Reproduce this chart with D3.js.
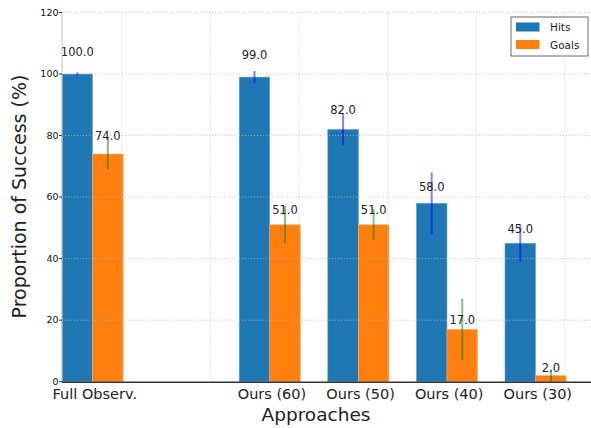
<!DOCTYPE html>
<html>
<head>
<meta charset="utf-8">
<script src="https://cdn.jsdelivr.net/npm/d3@7"></script>
<style>
  html, body { margin: 0; padding: 0; background: #fff; }
  svg { display: block; font-family: "DejaVu Sans", sans-serif; }
</style>
</head>
<body>
<svg id="chart" width="591" height="428"></svg>
<script>
// Success rates per approach (percent) with their spread
const categories = ["Full Observ.", "Ours (60)", "Ours (50)", "Ours (40)", "Ours (30)"];
const hits = [100.0, 99.0, 82.0, 58.0, 45.0];
const goals = [74.0, 51.0, 51.0, 17.0, 2.0];
const hitsErr = [0.5, 2, 5, 10, 6];
const goalsErr = [5, 6, 5, 10, 2];
const yTicks = [0, 20, 40, 60, 80, 100, 120];
const seriesNames = ["Hits", "Goals"];

const colors = { Hits: "#1f77b4", Goals: "#ff7f0e" };
const errColors = { Hits: "rgba(0,0,255,0.5)", Goals: "rgba(0,128,0,0.5)" };

// layout: one empty slot separates the baseline from our variants
const slot = [0, 2, 3, 4, 5];
const barW = 0.345;

const svg = d3.select("#chart");
const plotL = 62, plotR = 591, plotT = 12.5, plotB = 381.7;

const x = d3.scaleLinear().domain([0, 6]).range([plotL, plotL + 6 * 88.6]);
const y = d3.scaleLinear().domain([0, 120]).range([plotB, plotT]);

const rows = categories.map((c, i) => ({
  cat: c, s: slot[i],
  vals: [
    { name: "Hits", v: hits[i], e: hitsErr[i], off: 0 },
    { name: "Goals", v: goals[i], e: goalsErr[i], off: barW }
  ]
}));

// bars
const g = svg.append("g");
rows.forEach(r => {
  r.vals.forEach(d => {
    g.append("rect")
      .attr("x", x(r.s + d.off))
      .attr("y", y(d.v))
      .attr("width", x(r.s + d.off + barW) - x(r.s + d.off))
      .attr("height", y(0) - y(d.v))
      .attr("fill", colors[d.name])
      .attr("stroke", d.name === "Hits" ? "#6fa6d2" : "#ffae6a")
      .attr("stroke-width", 0.6);
  });
});

// grid (dotted, drawn above the bars)
const grid = svg.append("g").attr("stroke", "#b8b8b8").attr("stroke-width", 0.8)
  .attr("stroke-dasharray", "1,2");
yTicks.filter(t => t > 0).forEach(t => {
  grid.append("line").attr("x1", plotL).attr("x2", plotR)
    .attr("y1", y(t)).attr("y2", y(t));
});
d3.range(6).forEach(i => {
  grid.append("line").attr("x1", x(i + 0.675)).attr("x2", x(i + 0.675))
    .attr("y1", plotT).attr("y2", plotB);
});

// error bars
rows.forEach(r => {
  r.vals.forEach(d => {
    const cx = x(r.s + d.off + barW / 2);
    svg.append("line")
      .attr("x1", cx).attr("x2", cx)
      .attr("y1", y(Math.min(120, d.v + d.e)))
      .attr("y2", y(Math.max(0, d.v - d.e)))
      .attr("stroke", errColors[d.name])
      .attr("stroke-width", 2);
  });
});

// value labels
rows.forEach(r => {
  r.vals.forEach(d => {
    svg.append("text")
      .attr("x", x(r.s + d.off + barW / 2))
      .attr("y", y(d.v * 1.05) - 3)
      .attr("text-anchor", "middle")
      .attr("font-size", 11.5)
      .attr("fill", "#222")
      .text(d.v.toFixed(1));
  });
});

// spines
svg.append("line").attr("x1", plotL).attr("x2", plotL).attr("y1", plotT).attr("y2", plotB)
  .attr("stroke", "#c4c4c4").attr("stroke-width", 1);
svg.append("line").attr("x1", plotL).attr("x2", plotR).attr("y1", plotB + 0.5).attr("y2", plotB + 0.5)
  .attr("stroke", "#333").attr("stroke-width", 1.5);

// y axis ticks and labels
const yAxis = svg.append("g");
yTicks.forEach(t => {
  yAxis.append("line").attr("x1", plotL - 3).attr("x2", plotL)
    .attr("y1", y(t)).attr("y2", y(t)).attr("stroke", "#333").attr("stroke-width", 1);
  yAxis.append("text")
    .attr("x", plotL - 3.5).attr("y", y(t) + 3.2)
    .attr("text-anchor", "end").attr("font-size", 9.5).attr("fill", "#111")
    .text(t);
});

// x tick labels
rows.forEach(r => {
  svg.append("text")
    .attr("x", x(r.s + 0.37)).attr("y", 399)
    .attr("text-anchor", "middle").attr("font-size", 14.5).attr("fill", "#222")
    .text(r.cat);
});

// axis titles
svg.append("text")
  .attr("x", 316).attr("y", 420.5)
  .attr("text-anchor", "middle").attr("font-size", 18.5).attr("fill", "#222")
  .text("Approaches");
svg.append("text")
  .attr("transform", "translate(26,196.5) rotate(-90)")
  .attr("text-anchor", "middle").attr("font-size", 19).attr("fill", "#222")
  .text("Proportion of Success (%)");

// legend
const lg = svg.append("g");
lg.append("rect").attr("x", 511).attr("y", 17).attr("width", 77).attr("height", 39)
  .attr("fill", "#fff").attr("stroke", "#444").attr("stroke-width", 0.8);
seriesNames.forEach((n, i) => {
  lg.append("rect").attr("x", 516).attr("y", 22.5 + i * 17.5).attr("width", 23.5).attr("height", 9)
    .attr("fill", colors[n]);
  lg.append("text").attr("x", 550).attr("y", 31 + i * 17.5)
    .attr("font-size", 10.5).attr("fill", "#222").text(n);
});
</script>
</body>
</html>
